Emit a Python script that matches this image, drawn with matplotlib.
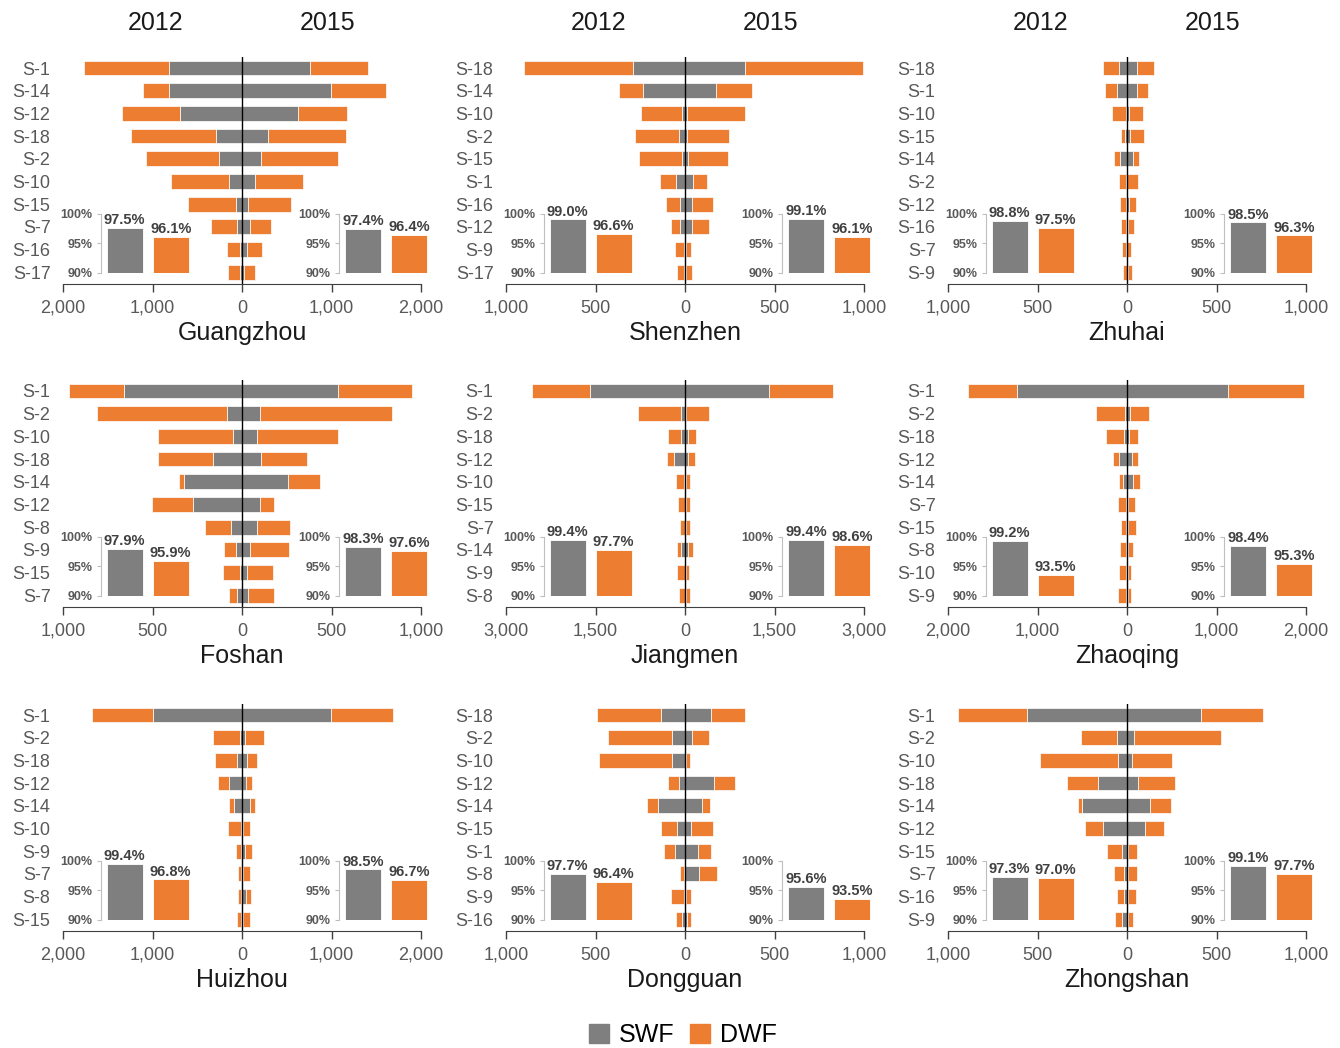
import matplotlib
matplotlib.use('Agg')
import matplotlib.pyplot as plt
from matplotlib import font_manager
from matplotlib.patches import Patch
import numpy as np

GRAY = '#7f7f7f'
ORANGE = '#ed7d31'
TXT = '#595959'

# ---- data: annual SWF / DWF per sector (2012 left, 2015 right) ----
cities = ['Guangzhou', 'Shenzhen', 'Zhuhai',
          'Foshan', 'Jiangmen', 'Zhaoqing',
          'Huizhou', 'Dongguan', 'Zhongshan']
limits = [2000, 1000, 1000, 1000, 3000, 2000, 2000, 1000, 1000]

sectors = [
    ['S-1', 'S-14', 'S-12', 'S-18', 'S-2', 'S-10', 'S-15', 'S-7', 'S-16', 'S-17'],
    ['S-18', 'S-14', 'S-10', 'S-2', 'S-15', 'S-1', 'S-16', 'S-12', 'S-9', 'S-17'],
    ['S-18', 'S-1', 'S-10', 'S-15', 'S-14', 'S-2', 'S-12', 'S-16', 'S-7', 'S-9'],
    ['S-1', 'S-2', 'S-10', 'S-18', 'S-14', 'S-12', 'S-8', 'S-9', 'S-15', 'S-7'],
    ['S-1', 'S-2', 'S-18', 'S-12', 'S-10', 'S-15', 'S-7', 'S-14', 'S-9', 'S-8'],
    ['S-1', 'S-2', 'S-18', 'S-12', 'S-14', 'S-7', 'S-15', 'S-8', 'S-10', 'S-9'],
    ['S-1', 'S-2', 'S-18', 'S-12', 'S-14', 'S-10', 'S-9', 'S-7', 'S-8', 'S-15'],
    ['S-18', 'S-2', 'S-10', 'S-12', 'S-14', 'S-15', 'S-1', 'S-8', 'S-9', 'S-16'],
    ['S-1', 'S-2', 'S-10', 'S-18', 'S-14', 'S-12', 'S-15', 'S-7', 'S-16', 'S-9'],
]

swf_2012 = [
    [821, 821, 690, 295, 261, 149, 71, 60, 22, 19],
    [291, 233, 15, 32, 19, 52, 26, 26, 6, 6],
    [43, 58, 6, 9, 37, 7, 7, 4, 4, 2],
    [662, 86, 52, 164, 326, 276, 60, 32, 13, 28],
    [1595, 62, 62, 190, 11, 6, 6, 67, 6, 6],
    [1228, 19, 30, 93, 49, 11, 11, 11, 7, 7],
    [989, 22, 56, 146, 90, 15, 15, 11, 15, 11],
    [132, 71, 71, 35, 149, 43, 54, 7, 7, 15],
    [558, 54, 49, 164, 250, 132, 26, 17, 19, 26],
]
dwf_2012 = [
    [948, 287, 646, 944, 814, 642, 533, 291, 146, 134],
    [608, 135, 229, 246, 238, 88, 80, 50, 48, 41],
    [89, 63, 80, 26, 36, 36, 32, 31, 26, 22],
    [303, 722, 420, 306, 27, 226, 149, 71, 93, 45],
    [974, 722, 223, 112, 146, 117, 78, 73, 128, 95],
    [548, 328, 205, 67, 41, 93, 60, 64, 86, 90],
    [686, 303, 243, 119, 59, 142, 48, 38, 34, 41],
    [361, 358, 410, 58, 66, 93, 62, 19, 73, 35],
    [384, 203, 438, 172, 24, 103, 88, 54, 35, 39],
]
swf_2015 = [
    [761, 989, 631, 291, 209, 149, 63, 86, 52, 26],
    [334, 175, 13, 11, 19, 43, 39, 39, 4, 6],
    [56, 58, 9, 17, 35, 2, 13, 4, 2, 4],
    [539, 101, 82, 104, 259, 99, 84, 47, 26, 32],
    [1416, 22, 50, 50, 17, 11, 11, 50, 11, 11],
    [1134, 37, 26, 56, 71, 7, 7, 7, 7, 7],
    [989, 34, 56, 49, 86, 15, 30, 11, 41, 11],
    [147, 39, 6, 164, 93, 35, 73, 76, 6, 11],
    [416, 41, 28, 60, 129, 103, 4, 4, 4, 4],
]
dwf_2015 = [
    [642, 623, 544, 869, 862, 530, 486, 239, 176, 116],
    [660, 198, 321, 233, 222, 82, 116, 93, 30, 31],
    [95, 61, 81, 80, 30, 60, 37, 33, 19, 26],
    [411, 737, 452, 258, 178, 78, 183, 218, 146, 149],
    [1069, 387, 140, 112, 67, 73, 79, 90, 62, 79],
    [847, 206, 97, 71, 75, 86, 94, 64, 42, 42],
    [701, 209, 108, 59, 60, 75, 82, 75, 56, 75],
    [189, 97, 22, 114, 49, 122, 71, 105, 28, 21],
    [343, 483, 222, 207, 117, 106, 50, 54, 46, 31],
]

# coverage rates (%) shown in the small insets: [SWF, DWF]
rate_2012 = [[97.5, 96.1], [99.0, 96.6], [98.8, 97.5],
             [97.9, 95.9], [99.4, 97.7], [99.2, 93.5],
             [99.4, 96.8], [97.7, 96.4], [97.3, 97.0]]
rate_2015 = [[97.4, 96.4], [99.1, 96.1], [98.5, 96.3],
             [98.3, 97.6], [99.4, 98.6], [98.4, 95.3],
             [98.5, 96.7], [95.6, 93.5], [99.1, 97.7]]

years = ['2012', '2015']

# ---- fonts ----
names = {f.name for f in font_manager.fontManager.ttflist}
plt.rcParams['font.family'] = ['Liberation Sans', 'DejaVu Sans']
NARROW = 'Liberation Sans Narrow' if 'Liberation Sans Narrow' in names else 'Liberation Sans'

W, H = 1340, 1048
fig = plt.figure(figsize=(W / 100, H / 100), dpi=100)


def fx(px):
    return px / W


def fy(py):
    return 1 - py / H


col_left = [63, 506, 948]
row_first = [68, 391, 715]   # centre of first bar, px
step = 22.67
ax_w = 358


def inset(x0, y0, vals):
    ai = fig.add_axes([fx(x0), fy(y0 + 2.61 * step), fx(91), 2.61 * step / H])
    ai.bar([0, 1], [v - 90 for v in vals], bottom=90, width=0.78,
           color=[GRAY, ORANGE], edgecolor='white', linewidth=0.6)
    for i, v in enumerate(vals):
        ai.text(i, v + 0.15, f'{v:.1f}%', ha='center', va='bottom',
                fontsize=10.5, fontweight='bold', color='#404040',
                family=NARROW, clip_on=False)
    ai.set_xlim(-0.52, 1.45)
    ai.set_ylim(90, 100)
    ai.set_yticks([90, 95, 100])
    ai.set_yticklabels(['90%', '95%', '100%'], fontsize=9,
                       fontweight='bold', color=TXT)
    ai.set_xticks([])
    for s in ['top', 'right', 'bottom']:
        ai.spines[s].set_visible(False)
    ai.spines['left'].set_color('#bfbfbf')
    ai.tick_params(axis='y', length=3, color='#bfbfbf', pad=3)
    ai.set_facecolor('none')


for k, city in enumerate(cities):
    r, c = divmod(k, 3)
    left = col_left[c]
    top = row_first[r] - 0.5 * step
    height = 10.05 * step
    ax = fig.add_axes([fx(left), fy(top + height), fx(ax_w), height / H])

    y = np.arange(len(sectors[k]))
    s12 = np.array(swf_2012[k])
    d12 = np.array(dwf_2012[k])
    s15 = np.array(swf_2015[k])
    d15 = np.array(dwf_2015[k])
    kw = dict(height=0.66, edgecolor='white', linewidth=0.5)
    ax.barh(y, -s12, color=GRAY, **kw)
    ax.barh(y, -d12, left=-s12, color=ORANGE, **kw)
    ax.barh(y, s15, color=GRAY, **kw)
    ax.barh(y, d15, left=s15, color=ORANGE, **kw)
    ax.axvline(0, color='black', lw=1.0, zorder=3)

    lim = limits[k]
    ax.set_xlim(-lim, lim)
    ax.set_ylim(9.55, -0.5)
    ticks = [-lim, -lim / 2, 0, lim / 2, lim]
    ax.set_xticks(ticks)
    ax.set_xticklabels([f'{abs(int(t)):,}' for t in ticks])
    ax.set_yticks(y)
    ax.set_yticklabels(sectors[k])
    ax.tick_params(axis='x', direction='out', length=6, width=1,
                   color='#404040', labelsize=13, labelcolor=TXT, pad=5)
    ax.tick_params(axis='y', length=0, labelsize=13, labelcolor=TXT, pad=9)
    for s in ['top', 'right', 'left']:
        ax.spines[s].set_visible(False)
    ax.spines['bottom'].set_color('#404040')
    ax.set_facecolor('none')

    fig.text(fx(left + ax_w / 2), fy(top + height + 49), city,
             ha='center', va='center', fontsize=18, color='#1a1a1a')
    if r == 0:
        fig.text(fx(left + ax_w / 2 - 86), fy(23), years[0],
                 ha='center', va='center', fontsize=18, color='#1a1a1a')
        fig.text(fx(left + ax_w / 2 + 86), fy(23), years[1],
                 ha='center', va='center', fontsize=18, color='#1a1a1a')

    inset(left + 37.5, row_first[r] + 6.42 * step, rate_2012[k])
    inset(left + 276, row_first[r] + 6.42 * step, rate_2015[k])

handles = [Patch(color=GRAY, label='SWF'), Patch(color=ORANGE, label='DWF')]
fig.legend(handles=handles, loc='center', bbox_to_anchor=(fx(683), fy(1035)),
           ncol=2, frameon=False, fontsize=18, handlelength=0.8,
           handleheight=0.8, handletextpad=0.4, columnspacing=0.6)

fig.savefig('out.png', dpi=100, facecolor='white')
